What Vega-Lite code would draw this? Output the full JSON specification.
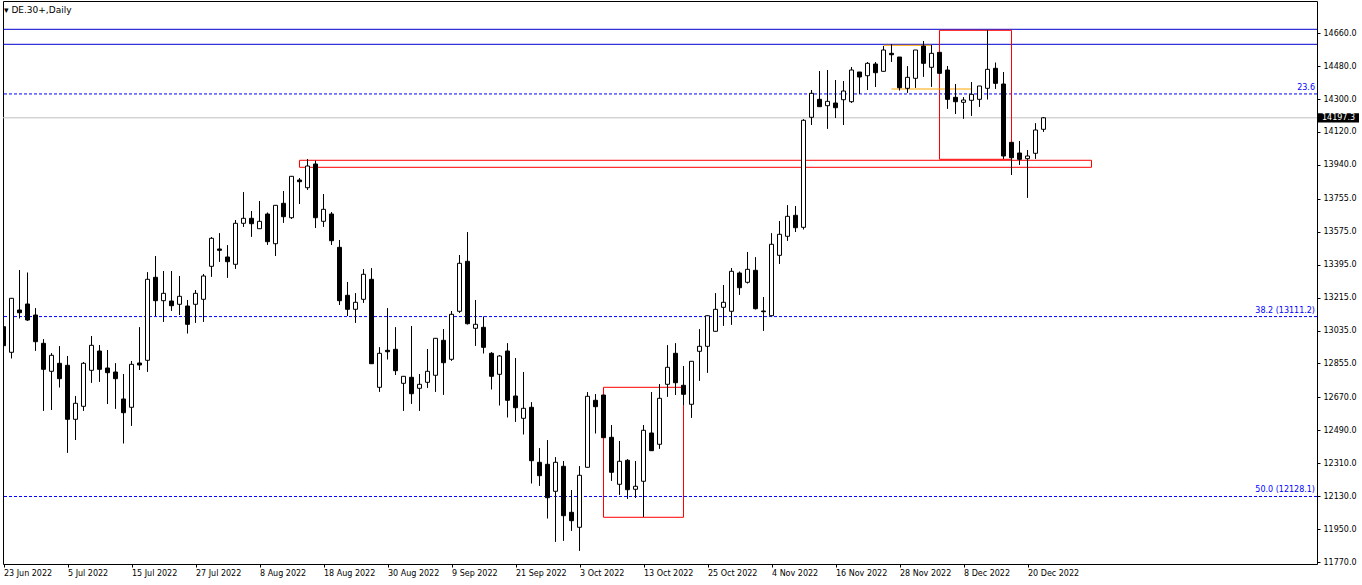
{
  "$schema": "https://vega.github.io/schema/vega-lite/v6.json",
  "description": "DE.30+ daily candlesticks, 23 Jun - 22 Dec 2022, with boxes, levels and Fibonacci lines.",
  "width": 1314,
  "height": 563,
  "autosize": {"type": "none"},
  "padding": {"left": 3, "top": 1, "right": 45, "bottom": 21},
  "background": "white",
  "title": {
    "text": "▾ DE.30+,Daily",
    "anchor": "start",
    "frame": "group",
    "orient": "top",
    "offset": -14,
    "dx": 1,
    "font": "DejaVu Sans",
    "fontSize": 9,
    "fontWeight": "normal",
    "color": "black"
  },
  "datasets": {
    "candles": [
      {"i":0,"date":"2022-06-23","open":13055.8,"high":13137.8,"low":12815.4,"close":12952.0},
      {"i":1,"date":"2022-06-24","open":12915.9,"high":13211.0,"low":12883.2,"close":13211.0},
      {"i":2,"date":"2022-06-27","open":13147.1,"high":13365.6,"low":13101.7,"close":13132.3},
      {"i":3,"date":"2022-06-28","open":13179.8,"high":13350.9,"low":13088.6,"close":13092.4},
      {"i":4,"date":"2022-06-29","open":13119.7,"high":13156.4,"low":12924.7,"close":12973.9},
      {"i":5,"date":"2022-06-30","open":12965.1,"high":12987.0,"low":12596.8,"close":12823.0},
      {"i":6,"date":"2022-07-01","open":12812.1,"high":12910.5,"low":12600.7,"close":12899.5},
      {"i":7,"date":"2022-07-04","open":12855.8,"high":12948.7,"low":12724.7,"close":12771.7},
      {"i":8,"date":"2022-07-05","open":12844.9,"high":12895.7,"low":12367.3,"close":12549.8},
      {"i":9,"date":"2022-07-06","open":12549.8,"high":12677.2,"low":12436.7,"close":12637.3},
      {"i":10,"date":"2022-07-07","open":12620.9,"high":12862.9,"low":12596.8,"close":12855.8},
      {"i":11,"date":"2022-07-08","open":12817.6,"high":13005.0,"low":12749.8,"close":12954.2},
      {"i":12,"date":"2022-07-11","open":12923.0,"high":12955.8,"low":12755.3,"close":12823.0},
      {"i":13,"date":"2022-07-12","open":12830.1,"high":12928.5,"low":12633.4,"close":12804.5},
      {"i":14,"date":"2022-07-13","open":12808.3,"high":12855.8,"low":12607.8,"close":12771.7},
      {"i":15,"date":"2022-07-14","open":12660.8,"high":12797.4,"low":12418.7,"close":12585.9},
      {"i":16,"date":"2022-07-15","open":12615.4,"high":12868.4,"low":12514.9,"close":12850.4},
      {"i":17,"date":"2022-07-18","open":12857.5,"high":13052.5,"low":12819.2,"close":12846.5},
      {"i":18,"date":"2022-07-19","open":12872.2,"high":13353.1,"low":12810.0,"close":13314.8},
      {"i":19,"date":"2022-07-20","open":13325.7,"high":13442.1,"low":13114.3,"close":13197.9},
      {"i":20,"date":"2022-07-21","open":13197.9,"high":13360.2,"low":13083.1,"close":13238.3},
      {"i":21,"date":"2022-07-22","open":13196.2,"high":13360.2,"low":13143.2,"close":13170.6},
      {"i":22,"date":"2022-07-25","open":13178.2,"high":13332.8,"low":13119.7,"close":13221.9},
      {"i":23,"date":"2022-07-26","open":13168.9,"high":13201.7,"low":13019.7,"close":13068.9},
      {"i":24,"date":"2022-07-27","open":13178.2,"high":13256.3,"low":13077.7,"close":13238.3},
      {"i":25,"date":"2022-07-28","open":13205.5,"high":13343.8,"low":13083.1,"close":13332.8},
      {"i":26,"date":"2022-07-29","open":13385.8,"high":13544.3,"low":13329.0,"close":13538.8},
      {"i":27,"date":"2022-08-01","open":13480.4,"high":13566.2,"low":13411.0,"close":13473.3},
      {"i":28,"date":"2022-08-02","open":13436.7,"high":13500.6,"low":13323.6,"close":13411.0},
      {"i":29,"date":"2022-08-03","open":13396.8,"high":13638.8,"low":13372.7,"close":13620.8},
      {"i":30,"date":"2022-08-04","open":13620.8,"high":13790.2,"low":13602.2,"close":13648.1},
      {"i":31,"date":"2022-08-05","open":13648.1,"high":13688.0,"low":13547.6,"close":13618.6},
      {"i":32,"date":"2022-08-08","open":13591.3,"high":13742.6,"low":13591.3,"close":13631.7},
      {"i":33,"date":"2022-08-09","open":13671.6,"high":13678.7,"low":13503.9,"close":13520.3},
      {"i":34,"date":"2022-08-10","open":13509.3,"high":13719.1,"low":13442.1,"close":13719.1},
      {"i":35,"date":"2022-08-11","open":13730.1,"high":13797.3,"low":13624.1,"close":13656.8},
      {"i":36,"date":"2022-08-12","open":13651.4,"high":13877.6,"low":13645.9,"close":13877.6},
      {"i":37,"date":"2022-08-15","open":13857.4,"high":13868.3,"low":13726.2,"close":13848.1},
      {"i":38,"date":"2022-08-16","open":13815.3,"high":13972.1,"low":13804.4,"close":13933.9},
      {"i":39,"date":"2022-08-17","open":13944.8,"high":13962.8,"low":13595.1,"close":13651.4},
      {"i":40,"date":"2022-08-18","open":13631.7,"high":13780.9,"low":13602.2,"close":13697.3},
      {"i":41,"date":"2022-08-19","open":13671.6,"high":13682.5,"low":13502.2,"close":13525.7},
      {"i":42,"date":"2022-08-22","open":13489.6,"high":13529.5,"low":13174.4,"close":13197.9},
      {"i":43,"date":"2022-08-23","open":13227.4,"high":13300.1,"low":13114.3,"close":13150.9},
      {"i":44,"date":"2022-08-24","open":13150.9,"high":13238.3,"low":13077.7,"close":13189.1},
      {"i":45,"date":"2022-08-25","open":13205.5,"high":13369.4,"low":13187.0,"close":13342.1},
      {"i":46,"date":"2022-08-26","open":13314.8,"high":13374.9,"low":12853.6,"close":12853.6},
      {"i":47,"date":"2022-08-29","open":12724.7,"high":12943.2,"low":12700.7,"close":12910.5},
      {"i":48,"date":"2022-08-30","open":12926.9,"high":13156.4,"low":12877.7,"close":12919.2},
      {"i":49,"date":"2022-08-31","open":12932.3,"high":13052.5,"low":12791.9,"close":12815.4},
      {"i":50,"date":"2022-09-01","open":12746.5,"high":12784.8,"low":12596.8,"close":12784.8},
      {"i":51,"date":"2022-09-02","open":12779.3,"high":13059.6,"low":12635.1,"close":12689.7},
      {"i":52,"date":"2022-09-05","open":12719.2,"high":12797.4,"low":12596.8,"close":12741.1},
      {"i":53,"date":"2022-09-06","open":12752.0,"high":12934.0,"low":12722.5,"close":12812.1},
      {"i":54,"date":"2022-09-07","open":12790.3,"high":12992.4,"low":12700.7,"close":12992.4},
      {"i":55,"date":"2022-09-08","open":12981.5,"high":13043.2,"low":12684.3,"close":12859.1},
      {"i":56,"date":"2022-09-09","open":12877.7,"high":13141.6,"low":12870.0,"close":13123.6},
      {"i":57,"date":"2022-09-12","open":13140.0,"high":13447.6,"low":13132.3,"close":13402.2},
      {"i":58,"date":"2022-09-13","open":13413.2,"high":13571.6,"low":13068.9,"close":13072.2},
      {"i":59,"date":"2022-09-14","open":13047.1,"high":13201.7,"low":12952.0,"close":13068.9},
      {"i":60,"date":"2022-09-15","open":13052.5,"high":13110.5,"low":12910.5,"close":12943.2},
      {"i":61,"date":"2022-09-16","open":12910.5,"high":12915.9,"low":12713.8,"close":12784.8},
      {"i":62,"date":"2022-09-19","open":12795.7,"high":12901.2,"low":12626.3,"close":12895.7},
      {"i":63,"date":"2022-09-20","open":12923.0,"high":12965.1,"low":12560.8,"close":12653.7},
      {"i":64,"date":"2022-09-21","open":12677.2,"high":12884.8,"low":12536.7,"close":12613.2},
      {"i":65,"date":"2022-09-22","open":12555.3,"high":12808.3,"low":12467.9,"close":12609.9},
      {"i":66,"date":"2022-09-23","open":12615.4,"high":12642.7,"low":12200.1,"close":12323.6},
      {"i":67,"date":"2022-09-26","open":12314.9,"high":12391.4,"low":12187.0,"close":12241.7},
      {"i":68,"date":"2022-09-27","open":12304.0,"high":12435.1,"low":12008.9,"close":12121.5},
      {"i":69,"date":"2022-09-28","open":12156.4,"high":12342.2,"low":11881.1,"close":12314.9},
      {"i":70,"date":"2022-09-29","open":12293.0,"high":12322.0,"low":11886.5,"close":12023.1},
      {"i":71,"date":"2022-09-30","open":12041.7,"high":12163.5,"low":11941.2,"close":11995.8},
      {"i":72,"date":"2022-10-03","open":11959.7,"high":12293.0,"low":11831.9,"close":12243.9},
      {"i":73,"date":"2022-10-04","open":12287.6,"high":12697.4,"low":12287.6,"close":12675.5},
      {"i":74,"date":"2022-10-05","open":12653.7,"high":12688.1,"low":12473.3,"close":12618.7},
      {"i":75,"date":"2022-10-06","open":12682.6,"high":12682.6,"low":12449.3,"close":12449.3},
      {"i":76,"date":"2022-10-07","open":12451.5,"high":12518.7,"low":12214.4,"close":12260.3},
      {"i":77,"date":"2022-10-10","open":12194.7,"high":12431.3,"low":12137.9,"close":12320.4},
      {"i":78,"date":"2022-10-11","open":12325.8,"high":12331.3,"low":12116.0,"close":12165.2},
      {"i":79,"date":"2022-10-12","open":12167.4,"high":12322.0,"low":12121.5,"close":12183.8},
      {"i":80,"date":"2022-10-13","open":12211.1,"high":12518.7,"low":12017.6,"close":12489.7},
      {"i":81,"date":"2022-10-14","open":12475.0,"high":12699.0,"low":12378.3,"close":12378.3},
      {"i":82,"date":"2022-10-17","open":12413.2,"high":12741.1,"low":12389.2,"close":12664.6},
      {"i":83,"date":"2022-10-18","open":12741.1,"high":12954.2,"low":12673.3,"close":12834.0},
      {"i":84,"date":"2022-10-19","open":12910.5,"high":12965.1,"low":12682.6,"close":12749.8},
      {"i":85,"date":"2022-10-20","open":12735.6,"high":12841.1,"low":12628.0,"close":12686.4},
      {"i":86,"date":"2022-10-21","open":12631.8,"high":12866.8,"low":12558.6,"close":12866.8},
      {"i":87,"date":"2022-10-24","open":12921.4,"high":13041.6,"low":12760.8,"close":12948.7},
      {"i":88,"date":"2022-10-25","open":12948.7,"high":13115.9,"low":12804.5,"close":13115.9},
      {"i":89,"date":"2022-10-26","open":13030.7,"high":13238.3,"low":13030.7,"close":13150.9},
      {"i":90,"date":"2022-10-27","open":13161.8,"high":13283.7,"low":13061.3,"close":13189.1},
      {"i":91,"date":"2022-10-28","open":13140.0,"high":13376.5,"low":13066.7,"close":13358.5},
      {"i":92,"date":"2022-10-31","open":13349.2,"high":13356.3,"low":13230.7,"close":13268.9},
      {"i":93,"date":"2022-11-01","open":13298.4,"high":13464.0,"low":13292.9,"close":13369.4},
      {"i":94,"date":"2022-11-02","open":13364.0,"high":13435.0,"low":13150.9,"close":13154.2},
      {"i":95,"date":"2022-11-03","open":13141.6,"high":13218.1,"low":13034.0,"close":13137.8},
      {"i":96,"date":"2022-11-04","open":13115.9,"high":13566.2,"low":13115.9,"close":13506.1},
      {"i":97,"date":"2022-11-07","open":13445.9,"high":13633.4,"low":13400.0,"close":13560.7},
      {"i":98,"date":"2022-11-08","open":13549.8,"high":13719.1,"low":13525.7,"close":13659.0},
      {"i":99,"date":"2022-11-09","open":13664.5,"high":13715.3,"low":13573.3,"close":13596.7},
      {"i":100,"date":"2022-11-10","open":13598.9,"high":14189.0,"low":13588.0,"close":14183.6},
      {"i":101,"date":"2022-11-11","open":14200.0,"high":14349.1,"low":14157.9,"close":14331.1},
      {"i":102,"date":"2022-11-14","open":14298.3,"high":14453.0,"low":14257.9,"close":14257.9},
      {"i":103,"date":"2022-11-15","open":14263.4,"high":14458.4,"low":14137.7,"close":14287.4},
      {"i":104,"date":"2022-11-16","open":14278.1,"high":14403.8,"low":14196.1,"close":14252.4},
      {"i":105,"date":"2022-11-17","open":14296.1,"high":14398.3,"low":14157.9,"close":14343.7},
      {"i":106,"date":"2022-11-18","open":14285.2,"high":14474.8,"low":14279.7,"close":14458.4},
      {"i":107,"date":"2022-11-21","open":14447.5,"high":14447.5,"low":14327.3,"close":14420.2},
      {"i":108,"date":"2022-11-22","open":14427.3,"high":14502.1,"low":14349.1,"close":14495.0},
      {"i":109,"date":"2022-11-23","open":14491.2,"high":14502.1,"low":14365.5,"close":14443.7},
      {"i":110,"date":"2022-11-24","open":14451.3,"high":14589.6,"low":14451.3,"close":14567.7},
      {"i":111,"date":"2022-11-25","open":14549.7,"high":14598.8,"low":14503.8,"close":14542.0},
      {"i":112,"date":"2022-11-28","open":14529.5,"high":14529.5,"low":14347.5,"close":14361.7},
      {"i":113,"date":"2022-11-29","open":14358.4,"high":14478.6,"low":14334.4,"close":14418.5},
      {"i":114,"date":"2022-11-30","open":14413.1,"high":14567.7,"low":14361.7,"close":14567.7},
      {"i":115,"date":"2022-12-01","open":14589.6,"high":14616.9,"low":14421.8,"close":14495.0},
      {"i":116,"date":"2022-12-02","open":14473.2,"high":14595.0,"low":14367.2,"close":14549.7},
      {"i":117,"date":"2022-12-05","open":14555.1,"high":14555.1,"low":14440.4,"close":14440.4},
      {"i":118,"date":"2022-12-06","open":14458.4,"high":14480.3,"low":14247.0,"close":14298.3},
      {"i":119,"date":"2022-12-07","open":14309.3,"high":14381.9,"low":14218.0,"close":14285.2},
      {"i":120,"date":"2022-12-08","open":14281.9,"high":14309.3,"low":14192.3,"close":14294.5},
      {"i":121,"date":"2022-12-09","open":14292.9,"high":14392.9,"low":14208.7,"close":14325.6},
      {"i":122,"date":"2022-12-12","open":14298.3,"high":14371.0,"low":14257.9,"close":14371.0},
      {"i":123,"date":"2022-12-13","open":14358.4,"high":14677.0,"low":14298.3,"close":14462.2},
      {"i":124,"date":"2022-12-14","open":14467.7,"high":14498.3,"low":14356.2,"close":14385.7},
      {"i":125,"date":"2022-12-15","open":14381.9,"high":14447.5,"low":13973.8,"close":13988.5},
      {"i":126,"date":"2022-12-16","open":14063.4,"high":14063.4,"low":13884.7,"close":13979.2},
      {"i":127,"date":"2022-12-19","open":14004.9,"high":14070.5,"low":13941.0,"close":13970.5},
      {"i":128,"date":"2022-12-20","open":13973.8,"high":14021.3,"low":13760.7,"close":13988.5},
      {"i":129,"date":"2022-12-21","open":14003.3,"high":14167.2,"low":13973.8,"close":14130.6},
      {"i":130,"date":"2022-12-22","open":14134.4,"high":14201.6,"low":14121.3,"close":14197.3}
    ],
    "levels": [{"price": 14680.8}, {"price": 14598.9}],
    "fibs": [
      {"price": 14327.6, "label": "23.6"},
      {"price": 13111.2, "label": "38.2 (13111.2)"},
      {"price": 12128.1, "label": "50.0 (12128.1)"}
    ],
    "bid": [{"price": 14197.3, "label": "14197.3"}],
    "boxes": [
      {"from": 37, "to": 136, "top": 13965.1, "bottom": 13926.8},
      {"from": 117, "to": 126, "top": 14675.4, "bottom": 13970.5},
      {"from": 75, "to": 85, "top": 12724.7, "bottom": 12014.4}
    ],
    "orange": [
      {"from": 110, "to": 116, "price": 14593.4},
      {"from": 111, "to": 121, "price": 14354.6}
    ]
  },
  "layer": [
    {
      "data": {"name": "candles"},
      "mark": {"type": "rule", "color": "black", "strokeWidth": 1, "clip": true},
      "encoding": {
        "x": {
          "field": "i", "type": "quantitative", "title": null,
          "scale": {"domain": [-0.0625, 164.1875], "nice": false, "zero": false, "padding": 0},
          "axis": {
            "orient": "bottom",
            "values": [0, 8, 16, 24, 32, 40, 48, 56, 64, 72, 80, 88, 96, 104, 112, 120, 128],
            "labelExpr": "['23 Jun 2022','5 Jul 2022','15 Jul 2022','27 Jul 2022','8 Aug 2022','18 Aug 2022','30 Aug 2022','9 Sep 2022','21 Sep 2022','3 Oct 2022','13 Oct 2022','25 Oct 2022','4 Nov 2022','16 Nov 2022','28 Nov 2022','8 Dec 2022','20 Dec 2022'][round(datum.value / 8)]",
            "tickCount": 40,
            "labelAlign": "left",
            "labelBaseline": "top",
            "tickSize": 3,
            "labelPadding": 2,
            "labelOverlap": false,
            "labelFlush": false,
            "labelBound": false,
            "grid": false,
            "domain": false
          }
        },
        "y": {
          "field": "low", "type": "quantitative", "title": null,
          "scale": {"domain": [11759.2, 14835.5], "nice": false, "zero": false, "padding": 0},
          "axis": {
            "orient": "right",
            "values": [14660, 14480, 14300, 14120, 13940, 13755, 13575, 13395, 13215, 13035, 12855, 12670, 12490, 12310, 12130, 11950, 11770],
            "tickCount": 40,
            "format": ".1f",
            "tickSize": 3,
            "labelPadding": 3,
            "labelOverlap": false,
            "labelFlush": false,
            "labelBaseline": "middle",
            "grid": false,
            "domain": false
          }
        },
        "y2": {"field": "high"}
      }
    },
    {
      "data": {"name": "levels"},
      "mark": {"type": "rule", "color": "#0000cd", "strokeWidth": 1},
      "encoding": {
        "y": {"field": "price", "type": "quantitative", "title": null}
      }
    },
    {
      "data": {"name": "fibs"},
      "mark": {"type": "rule", "color": "#0000ff", "strokeWidth": 1, "strokeDash": [3, 2]},
      "encoding": {
        "y": {"field": "price", "type": "quantitative", "title": null}
      }
    },
    {
      "data": {"name": "bid"},
      "mark": {"type": "rule", "color": "#c0c0c0", "strokeWidth": 1},
      "encoding": {
        "y": {"field": "price", "type": "quantitative", "title": null}
      }
    },
    {
      "data": {"name": "boxes"},
      "mark": {"type": "rect", "filled": false, "stroke": "#ff0000", "strokeWidth": 1, "clip": true},
      "encoding": {
        "x": {"field": "from", "type": "quantitative", "title": null},
        "x2": {"field": "to"},
        "y": {"field": "top", "type": "quantitative", "title": null},
        "y2": {"field": "bottom"}
      }
    },
    {
      "data": {"name": "orange"},
      "mark": {"type": "rule", "color": "#ffa500", "strokeWidth": 1},
      "encoding": {
        "x": {"field": "from", "type": "quantitative", "title": null},
        "x2": {"field": "to"},
        "y": {"field": "price", "type": "quantitative", "title": null}
      }
    },
    {
      "data": {"name": "candles"},
      "mark": {"type": "rule", "color": "black", "strokeWidth": 1, "clip": true},
      "encoding": {
        "x": {"field": "i", "type": "quantitative", "title": null},
        "y": {"field": "low", "type": "quantitative", "title": null},
        "y2": {"field": "high"}
      }
    },
    {
      "data": {"name": "candles"},
      "mark": {"type": "bar", "size": 4, "stroke": "black", "strokeWidth": 1, "clip": true},
      "encoding": {
        "x": {"field": "i", "type": "quantitative", "title": null},
        "y": {"field": "open", "type": "quantitative", "title": null},
        "y2": {"field": "close"},
        "fill": {
          "condition": {"test": "datum.close > datum.open", "value": "white"},
          "value": "black"
        }
      }
    },
    {
      "data": {"name": "fibs"},
      "mark": {"type": "text", "color": "#0000ff", "font": "DejaVu Sans", "fontSize": 8, "align": "right", "baseline": "bottom", "dx": -2, "dy": -2},
      "encoding": {
        "x": {"datum": 164.1875, "type": "quantitative", "title": null},
        "y": {"field": "price", "type": "quantitative", "title": null},
        "text": {"field": "label"}
      }
    },
    {
      "data": {"name": "bid"},
      "mark": {"type": "point", "shape": "M0,-0.11L1,-0.11L1,0.11L0,0.11Z", "size": 7056, "filled": true, "color": "black", "opacity": 1, "strokeWidth": 0, "clip": false},
      "encoding": {
        "x": {"datum": 164.1875, "type": "quantitative", "title": null},
        "y": {"field": "price", "type": "quantitative", "title": null}
      }
    },
    {
      "data": {"name": "bid"},
      "mark": {"type": "text", "color": "white", "font": "DejaVu Sans", "fontSize": 8, "align": "left", "baseline": "middle", "dx": 5, "clip": false},
      "encoding": {
        "x": {"datum": 164.1875, "type": "quantitative", "title": null},
        "y": {"field": "price", "type": "quantitative", "title": null},
        "text": {"field": "label"}
      }
    }
  ],
  "config": {
    "view": {"stroke": "black", "strokeWidth": 1},
    "font": "DejaVu Sans",
    "scale": {"continuousPadding": 0},
    "axis": {
      "labelFont": "DejaVu Sans",
      "labelFontSize": 8,
      "labelColor": "black",
      "tickColor": "black",
      "domain": false,
      "grid": false
    }
  }
}
